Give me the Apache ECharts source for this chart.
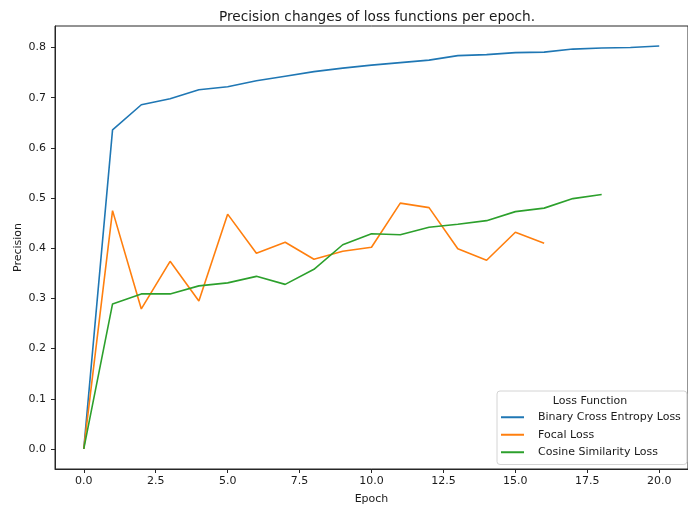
<!DOCTYPE html>
<html>
<head>
<meta charset="utf-8">
<title>Precision changes of loss functions per epoch.</title>
<script src="https://cdn.jsdelivr.net/npm/echarts@6/dist/echarts.min.js"></script>
<style>
  html, body { margin: 0; padding: 0; background: #ffffff; }
  #chart { width: 688px; height: 510px; }
</style>
</head>
<body>
<div id="chart"></div>
<script>
// Precision per epoch for each loss function
const seriesNames = ['Binary Cross Entropy Loss', 'Focal Loss', 'Cosine Similarity Loss'];
const bcePrecision = [0.0, 0.636, 0.686, 0.698, 0.716, 0.722, 0.734, 0.743, 0.752, 0.759, 0.765, 0.770, 0.775, 0.784, 0.786, 0.790, 0.791, 0.797, 0.799, 0.800, 0.803];
const focalPrecision = [0.0, 0.475, 0.279, 0.374, 0.295, 0.468, 0.390, 0.412, 0.378, 0.394, 0.402, 0.490, 0.481, 0.399, 0.376, 0.432, 0.410];
const cosinePrecision = [0.0, 0.289, 0.309, 0.309, 0.325, 0.331, 0.344, 0.328, 0.358, 0.407, 0.429, 0.427, 0.442, 0.448, 0.455, 0.473, 0.480, 0.499, 0.507];
const xTicks = [0, 2.5, 5, 7.5, 10, 12.5, 15, 17.5, 20];
const yTicks = [0, 0.1, 0.2, 0.3, 0.4, 0.5, 0.6, 0.7, 0.8];
const colors = ['#1f77b4', '#ff7f0e', '#2ca02c'];

const toPairs = arr => arr.map((v, i) => [i, v]);
const FONT = 'DejaVu Sans';
const TEXT = '#1a1a1a';
const FS = 11;

const chart = echarts.init(document.getElementById('chart'), null, { renderer: 'canvas' });

chart.setOption({
  animation: false,
  backgroundColor: '#ffffff',
  color: colors,
  textStyle: { fontFamily: FONT },
  title: {
    text: 'Precision changes of loss functions per epoch.',
    left: 372,
    textAlign: 'center',
    top: 5,
    textStyle: { fontFamily: FONT, fontSize: 13.7, fontWeight: 'normal', color: TEXT }
  },
  grid: {
    left: 55, top: 26, width: 635, height: 443,
    show: true, borderColor: '#262626', borderWidth: 1, backgroundColor: 'transparent'
  },
  xAxis: {
    type: 'value',
    min: -1, max: 21,
    name: 'Epoch',
    nameLocation: 'middle',
    nameGap: 25,
    nameTextStyle: { fontFamily: FONT, fontSize: FS, color: TEXT },
    axisLine: { show: true, onZero: false, lineStyle: { color: '#262626', width: 1 } },
    axisTick: { show: true, length: 4, customValues: xTicks, lineStyle: { color: '#262626' } },
    axisLabel: {
      customValues: xTicks, margin: 7,
      fontFamily: FONT, fontSize: FS, color: TEXT,
      formatter: v => v.toFixed(1)
    },
    splitLine: { show: false }
  },
  yAxis: {
    type: 'value',
    min: -0.04, max: 0.843,
    name: 'Precision',
    nameLocation: 'middle',
    nameGap: 31,
    nameMoveOverlap: false,
    nameTextStyle: { fontFamily: FONT, fontSize: FS, color: TEXT },
    axisLine: { show: true, onZero: false, lineStyle: { color: '#262626', width: 1 } },
    axisTick: { show: true, length: 4, customValues: yTicks, lineStyle: { color: '#262626' } },
    axisLabel: {
      customValues: yTicks, margin: 9,
      fontFamily: FONT, fontSize: FS, color: TEXT,
      formatter: v => v.toFixed(1)
    },
    splitLine: { show: false }
  },
  legend: {
    orient: 'vertical',
    left: 497, top: 391,
    data: seriesNames,
    icon: 'rect',
    itemWidth: 23, itemHeight: 2,
    itemGap: 3,
    padding: [19, 6, 5, 4],
    backgroundColor: 'rgba(255,255,255,0.85)',
    borderColor: '#d4d4d4', borderWidth: 1, borderRadius: 3,
    textStyle: { fontFamily: FONT, fontSize: FS, color: TEXT, lineHeight: 14.5, padding: [0, 0, 0, 9] }
  },
  graphic: [{
    type: 'text',
    x: 590, y: 401, z: 100,
    style: {
      text: 'Loss Function',
      fontFamily: FONT, fontSize: FS, fill: TEXT,
      align: 'center', verticalAlign: 'middle'
    }
  }],
  series: [
    { name: seriesNames[0], type: 'line', data: toPairs(bcePrecision), showSymbol: false, symbol: 'none', lineStyle: { width: 1.6 } },
    { name: seriesNames[1], type: 'line', data: toPairs(focalPrecision), showSymbol: false, symbol: 'none', lineStyle: { width: 1.6 } },
    { name: seriesNames[2], type: 'line', data: toPairs(cosinePrecision), showSymbol: false, symbol: 'none', lineStyle: { width: 1.6 } }
  ]
});
</script>
</body>
</html>
